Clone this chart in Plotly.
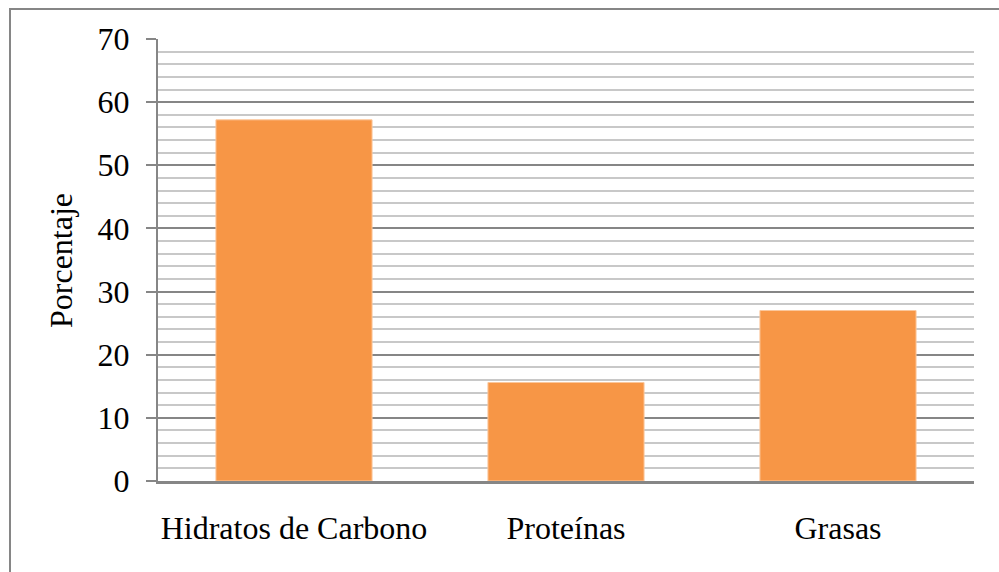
import plotly.graph_objects as go

# Macronutrient share of the diet
categorias = ["Hidratos de Carbono", "Proteínas", "Grasas"]
porcentajes = [57.2, 15.6, 27.0]
y_ticks = [0, 10, 20, 30, 40, 50, 60, 70]

W, H = 999, 572
L, R, T, B = 158, 25, 39, 91
plot_w = W - L - R
plot_h = H - T - B


def px_to_paper_x(px):
    return (px - L) / plot_w


def px_to_paper_y(py):
    return (H - B - py) / plot_h


FONT = "Liberation Serif"
FS = 32
AXIS_GREY = "#868686"

fig = go.Figure(
    go.Bar(
        x=categorias,
        y=porcentajes,
        marker=dict(color="#F79646", line=dict(color="#FBC79C", width=1)),
    )
)

fig.update_layout(
    width=W,
    height=H,
    margin=dict(l=L, r=R, t=T, b=B, pad=0),
    paper_bgcolor="white",
    plot_bgcolor="white",
    bargap=0.426,
    showlegend=False,
    font=dict(family=FONT, size=FS, color="black"),
)

fig.update_xaxes(
    showline=True,
    linecolor=AXIS_GREY,
    linewidth=2.5,
    ticks="",
    showgrid=False,
    ticklabelstandoff=17,
    tickfont=dict(family=FONT, size=FS, color="black"),
)

fig.update_yaxes(
    range=[0, 70],
    tickvals=y_ticks,
    showline=True,
    linecolor=AXIS_GREY,
    linewidth=2,
    ticks="outside",
    ticklen=10,
    tickwidth=1.5,
    tickcolor=AXIS_GREY,
    ticklabelstandoff=10,
    showgrid=True,
    gridcolor=AXIS_GREY,
    gridwidth=1.5,
    zeroline=False,
    minor=dict(dtick=2, showgrid=True, gridcolor="#C8C8C8", gridwidth=1.5, ticks=""),
    tickfont=dict(family=FONT, size=FS, color="black"),
)

# Axis title placed explicitly
fig.add_annotation(
    text="Porcentaje",
    xref="paper",
    yref="paper",
    x=px_to_paper_x(61),
    y=px_to_paper_y(261),
    textangle=-90,
    showarrow=False,
    font=dict(family=FONT, size=FS, color="black"),
    xanchor="center",
    yanchor="middle",
)

# Chart-area border
fig.add_shape(
    type="rect",
    xref="paper",
    yref="paper",
    x0=px_to_paper_x(10),
    x1=px_to_paper_x(1010),
    y0=px_to_paper_y(590),
    y1=px_to_paper_y(9),
    line=dict(color=AXIS_GREY, width=2),
    fillcolor="rgba(0,0,0,0)",
    layer="below",
)

fig.write_html("out.html")
